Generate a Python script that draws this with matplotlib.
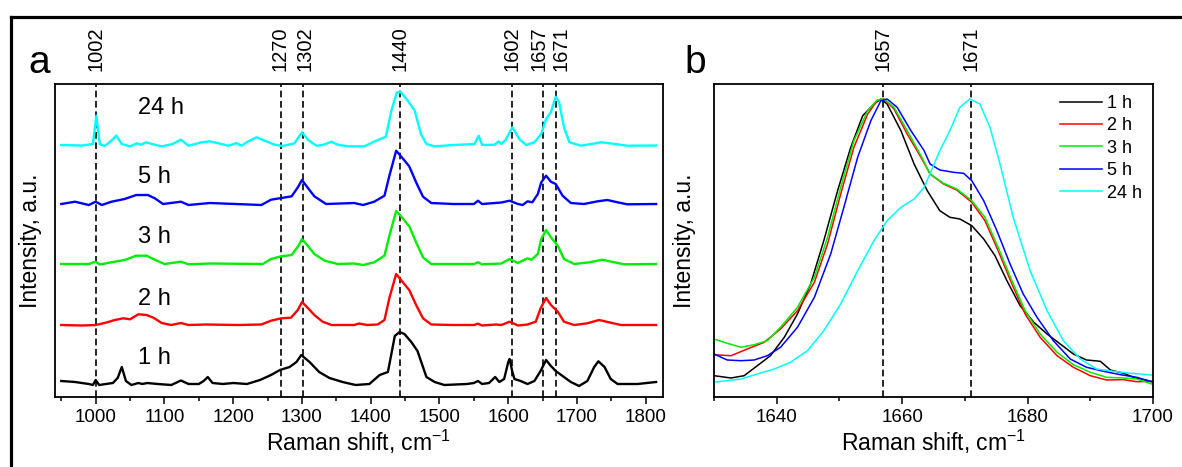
import matplotlib
matplotlib.use('Agg')
import matplotlib.pyplot as plt
from matplotlib.lines import Line2D
from matplotlib.ticker import MultipleLocator
import matplotlib.transforms as mtransforms

plt.rcParams['font.family'] = ['Liberation Sans', 'DejaVu Sans']
plt.rcParams['mathtext.fontset'] = 'custom'
plt.rcParams['mathtext.rm'] = 'Liberation Sans'

# ---- panel a: stacked Raman spectra (heights above each baseline, a.u.) ----
wn_1h = [950, 970, 990, 996, 1000, 1005, 1015, 1025, 1032, 1038, 1044, 1052, 1062, 1068, 1075, 1090,
         1110, 1124, 1135, 1150, 1157, 1163, 1170, 1185, 1200, 1220, 1239, 1255, 1268, 1282, 1292,
         1299, 1311, 1325, 1340, 1359, 1378, 1398, 1413, 1425, 1430, 1435, 1442, 1449, 1459, 1468,
         1476, 1481, 1493, 1507, 1540, 1550, 1556, 1562, 1572, 1581, 1587, 1594, 1600, 1602, 1606,
         1609, 1618, 1628, 1638, 1647, 1655, 1662, 1669, 1679, 1691, 1703, 1715, 1725, 1731, 1740,
         1749, 1759, 1788, 1815]
int_1h = [3, 2, 0, -1, 4, -1, 0, 1, 6, 17, 3, -1, 1, 0, 1, 0,
          -1, 3.5, 0, 0, 3, 7, 1, 0, 1, 0, 4, 9, 14, 17, 22,
          29, 22, 12, 6, 2, -1, 0, 9, 12, 30, 48, 52, 50, 42, 33,
          17, 7, 2, -1, 0, 1, 3, 0, 1, 7, 2, 5, 22, 25, 12,
          5, 3, 0, 3, 13, 24, 18, 13, 8, 2, -2, 3, 17, 22.7, 17,
          5, 0, 0, 2]

wn_2h = [950, 980, 1000, 1013, 1028, 1040, 1050, 1062, 1074, 1084, 1096, 1110, 1124, 1135, 1160,
         1207, 1241, 1255, 1270, 1284, 1294, 1300, 1309, 1318, 1330, 1343, 1376, 1383, 1395, 1410,
         1420, 1427, 1437, 1444, 1456, 1466, 1476, 1488, 1520, 1550, 1556, 1562, 1582, 1590, 1602,
         1614, 1628, 1640, 1647, 1655, 1662, 1672, 1681, 1696, 1715, 1732, 1749, 1764, 1815]
int_2h = [0, -0.5, 0, 2, 5, 6.7, 5.7, 10.7, 10, 7.3, 2, 0, 2, 0, 0.5,
          0, 0.5, 4.3, 6.7, 7.3, 15, 23, 16.7, 10, 3.3, 0, 0, 1.5, 0, 0.5,
          5, 26.7, 51, 45, 35, 20, 6.7, 0.5, 0, 0, 1.3, -0.5, 0.5, 0, 3.3,
          -0.5, 0.5, 3.3, 16.7, 27, 20, 13.3, 3.3, 0, 1.7, 5, 2.3, 0, 0]

wn_3h = [950, 990, 1000, 1006, 1023, 1042, 1059, 1074, 1086, 1100, 1124, 1135, 1166, 1243, 1255,
         1270, 1285, 1295, 1300, 1309, 1318, 1333, 1352, 1376, 1389, 1405, 1420, 1427, 1437, 1444,
         1456, 1466, 1476, 1488, 1550, 1556, 1562, 1590, 1602, 1614, 1628, 1634, 1643, 1648, 1655,
         1662, 1672, 1681, 1696, 1718, 1737, 1754, 1769, 1815]
int_3h = [0, 0, 2.3, -0.5, 1.7, 4, 8.3, 8.3, 4.3, 0, 2.3, -0.3, 0.5, 0, 5,
          7.7, 9, 18.3, 25, 17.7, 10, 3.3, 0, 0.5, -1, 1.7, 8.3, 28, 53, 47.7,
          37.7, 21.7, 6.7, 0, 0, 1.7, -0.3, 0.5, 5, 1, 5.7, 4.3, 10, 25, 34,
          26.7, 18.3, 5, 0, 1.7, 4.3, 1.7, -0.3, 0]

wn_5h = [950, 970, 990, 1000, 1009, 1023, 1042, 1059, 1076, 1086, 1098, 1124, 1135, 1166, 1241,
         1255, 1270, 1285, 1294, 1300, 1309, 1318, 1335, 1376, 1389, 1405, 1420, 1427, 1437, 1444,
         1456, 1466, 1476, 1488, 1520, 1550, 1556, 1562, 1590, 1602, 1614, 1621, 1628, 1635, 1643,
         1648, 1655, 1662, 1669, 1679, 1691, 1710, 1730, 1744, 1759, 1773, 1815]
int_5h = [0, 2.3, -1, 2.3, -1, 2.3, 5, 9, 9, 5.7, 0, 2.3, -1, 1, -1,
          4.3, 6, 7.7, 16.7, 24, 15.7, 7.7, 0, 1, -1, 2.3, 8.3, 28, 53.3, 47.7,
          37.7, 21.7, 7.3, 1, 0, 0, 3.3, 0, 1.5, 3.3, 0, -1, 2.7, 1.7, 10,
          21.7, 28.3, 22.3, 20, 8.3, 1, 0, 2.7, 4, 1.7, -0.3, 0]

wn_24h = [950, 980, 996, 1001, 1006, 1013, 1023, 1030, 1038, 1050, 1060, 1066, 1073, 1082, 1096,
          1112, 1124, 1135, 1154, 1166, 1180, 1193, 1205, 1212, 1222, 1234, 1246, 1260, 1272, 1289,
          1300, 1309, 1321, 1330, 1343, 1352, 1367, 1391, 1406, 1422, 1430, 1438, 1444, 1454, 1464,
          1473, 1481, 1493, 1520, 1551, 1557, 1562, 1580, 1586, 1590, 1596, 1606, 1616, 1626, 1638,
          1648, 1655, 1662, 1669, 1674, 1681, 1689, 1706, 1720, 1735, 1750, 1773, 1815]
int_24h = [0, -0.5, 1, 29.3, 1, -1, 4.3, 9.3, 1, -1.3, 1.7, 0.3, 2.7, 1, -1.3,
           1, 5.3, -0.7, 2.7, 3.7, 1.5, -0.7, 2, -0.7, 3.7, 7.7, 4.3, 0.3, -1, 1.7,
           12.7, 5, -0.7, 0, 3.3, 0.3, -1.3, -1.3, 3.7, 8.3, 34.3, 52.7, 52.7, 44.3, 34.3,
           11, 1, -1.3, 0, 1, 9.3, 0, 0.3, 3.7, 1, 5, 17.7, 6, 0, 2.7,
           11, 26, 32.7, 48.3, 42.7, 17.7, 2.7, -0.7, 1, 2.7, 1.5, -0.7, -0.5]

times = ['1 h', '2 h', '3 h', '5 h', '24 h']
colors = ['#000000', '#ff0000', '#00ee00', '#0000ff', '#00ffff']
offsets = [13, 72, 133, 193, 252]
label_y = [39, 98, 160, 220, 289]
spectra_a = [(wn_1h, int_1h), (wn_2h, int_2h), (wn_3h, int_3h), (wn_5h, int_5h), (wn_24h, int_24h)]

peak_pos_a = [1001, 1270, 1302, 1443, 1605, 1651, 1669]
peak_lab_a = ['1002', '1270', '1302', '1440', '1602', '1657', '1671']
peak_lab_x_a = [1000, 1268, 1304, 1443, 1605, 1645, 1677]

# ---- panel b: normalised amide I region ----
wn_b_1h = [1630, 1632.7, 1634.8, 1636.9, 1639, 1641.2, 1643.3, 1645.4, 1647.5, 1649.7, 1651.8, 1653.7,
           1655.5, 1656.6, 1657.6, 1659.8, 1661.9, 1664, 1666, 1667.6, 1669.2, 1671.1, 1673, 1674.8,
           1676.7, 1678.8, 1681, 1683.1, 1685.2, 1687.3, 1689.4, 1691.6, 1693.2, 1695.3, 1696.9, 1699.8]
y_b_1h = [21.3, 19, 21.3, 31.3, 41.3, 59.7, 83, 113, 156.3, 206.3, 249.7, 281.3,
          293, 298, 293, 266.3, 233, 206.3, 186.3, 179.7, 178, 171.3, 158, 141.3,
          116.3, 91.3, 74.7, 63, 53, 43, 37, 35.7, 27, 23.7, 19.7, 15.3]

wn_b_2h = [1630, 1632.7, 1635.3, 1638, 1640.6, 1643.3, 1646, 1648.1, 1650.2, 1652.3, 1654.5, 1656,
           1657.1, 1658.7, 1660.8, 1663, 1664.45, 1666.6, 1668.7, 1671.1, 1673.2, 1675.3, 1677.5,
           1679.6, 1682, 1684.7, 1687.3, 1690, 1692.6, 1695.3, 1697.4, 1699.8]
y_b_2h = [42.3, 41.3, 48, 54.7, 68, 86.3, 114.7, 153, 203, 249.7, 283, 296.3,
          298, 288, 263, 239.7, 223, 213, 207, 194.7, 176.3, 146.3, 113,
          83, 59.7, 41.3, 29.7, 21.3, 17, 17.3, 15.3, 15.7]

wn_b_3h = [1630, 1632.1, 1634.3, 1636.4, 1638.5, 1640.6, 1643.3, 1646, 1648.1, 1650.2, 1652.3, 1654.5,
           1656, 1657.1, 1658.7, 1660.8, 1663, 1664.45, 1666.6, 1668.7, 1671.1, 1673.2, 1675.3,
           1677.5, 1679.6, 1682, 1684.7, 1687.3, 1690, 1692.6, 1695.3, 1697.4, 1699.8]
y_b_3h = [58, 53.7, 49.7, 52.3, 56.3, 69.7, 89.7, 119.7, 159.7, 209.7, 256.3, 286.3,
          297, 298, 289.7, 266.3, 241.3, 223, 213.7, 208, 196.3, 179.7, 149.7,
          116.3, 86.3, 63, 44.7, 32.3, 24.7, 19.7, 19, 18, 13]

wn_b_5h = [1630, 1632.1, 1634.3, 1636.4, 1638.5, 1640.6, 1643.3, 1646, 1648.6, 1650.7, 1652.9, 1655,
           1656.6, 1657.6, 1659.2, 1661.4, 1663.5, 1664.45, 1666, 1668.2, 1669.8, 1671.1, 1673,
           1675.1, 1677.2, 1679.3, 1681.5, 1684.1, 1686.8, 1689.4, 1692.1, 1694.8, 1697.4, 1699.8]
y_b_5h = [43, 37, 36.3, 37, 41.3, 49.7, 69.7, 99.7, 143, 189.7, 239.7, 276.3,
          296.3, 298, 289.7, 266.3, 246.3, 233, 227, 224.7, 223.7, 216.3, 196.3,
          166.3, 133, 103, 79.7, 56.3, 38, 29.7, 25.7, 22.3, 19.7, 15.3]

wn_b_24h = [1630, 1632.1, 1634.3, 1636.9, 1639.6, 1642.2, 1644.9, 1647.5, 1650.2, 1652.9, 1655.5,
            1657.6, 1659.8, 1661.9, 1663.5, 1665.1, 1666, 1667.6, 1669.2, 1670.8, 1672.4, 1674,
            1675.6, 1677.7, 1680.4, 1683.1, 1685.7, 1688.4, 1691, 1693.7, 1696.4, 1699.8]
y_b_24h = [14.7, 16.3, 18, 23, 28, 34.7, 46.3, 66.3, 93, 126.3, 156.3,
           176.3, 189.7, 198, 209.7, 233, 246.3, 266.3, 289.7, 298, 293, 269.7,
           233, 179.7, 126.3, 86.3, 56.3, 38, 28, 25.7, 23.7, 22]

spectra_b = [(wn_b_1h, y_b_1h), (wn_b_2h, y_b_2h), (wn_b_3h, y_b_3h), (wn_b_5h, y_b_5h), (wn_b_24h, y_b_24h)]
peak_pos_b = [1657, 1671]
peak_lab_b = ['1657', '1671']

fig = plt.figure(figsize=(11.82, 4.67), dpi=100)

# outer frame (top and left edges only, as in the cropped figure)
fig.add_artist(Line2D([0.0096, 0.0096], [0, 0.963], color='k', lw=2.3, transform=fig.transFigure))
fig.add_artist(Line2D([0.0096, 1.0], [0.963, 0.963], color='k', lw=2.3, transform=fig.transFigure))

ax_a = fig.add_axes([0.0465, 0.1499, 0.5144, 0.6702])
ax_b = fig.add_axes([0.6041, 0.1499, 0.3714, 0.6702])

for (x, y), off, c in zip(spectra_a, offsets, colors):
    ax_a.plot(x, [v + off for v in y], color=c, lw=1.7)
for t, ly in zip(times, label_y):
    ax_a.text(1062, ly, t, fontsize=17, ha='left', va='center')

for (x, y), c, t in zip(spectra_b, colors, times):
    ax_b.plot(x, y, color=c, lw=1.1, label=t)

for ax, pos, lab_x, labs in [(ax_a, peak_pos_a, peak_lab_x_a, peak_lab_a),
                             (ax_b, peak_pos_b, peak_pos_b, peak_lab_b)]:
    trans = mtransforms.blended_transform_factory(ax.transData, ax.transAxes)
    for p, lx, l in zip(pos, lab_x, labs):
        ax.axvline(p, color='k', ls=(0, (4, 2.2)), lw=1.2, zorder=0)
        ax.text(lx, 1.04, l, transform=trans, rotation=90, ha='center', va='bottom', fontsize=14.5)
    ax.set_yticks([])
    ax.set_ylim(0, 313)
    ax.tick_params(axis='x', which='major', direction='out', length=5, width=1.1, labelsize=13.5, pad=4)
    ax.tick_params(axis='x', which='minor', direction='out', length=3, width=1.1)
    for s in ax.spines.values():
        s.set_linewidth(1.3)
    ax.set_xlabel('Raman shift, cm$\\mathregular{^{-1}}$', fontsize=16.5, labelpad=1)

ax_a.set_xlim(940.8, 1825)
ax_a.xaxis.set_major_locator(MultipleLocator(100))
ax_a.xaxis.set_minor_locator(MultipleLocator(50))
ax_a.set_ylabel('Intensity, a.u.', fontsize=16.5, labelpad=9)

ax_b.set_xlim(1630, 1700)
ax_b.xaxis.set_major_locator(MultipleLocator(20))
ax_b.xaxis.set_minor_locator(MultipleLocator(10))
ax_b.set_ylabel('Intensity, a.u.', fontsize=16.5, labelpad=13)
ax_b.legend(loc='upper right', frameon=False, fontsize=13, handlelength=2.3,
            labelspacing=0.3, handletextpad=0.3, borderaxespad=0.2)

fig.text(0.0237, 0.843, 'a', fontsize=28, ha='left', va='baseline')
fig.text(0.5795, 0.843, 'b', fontsize=28, ha='left', va='baseline')

fig.savefig('out.png', dpi=100)
